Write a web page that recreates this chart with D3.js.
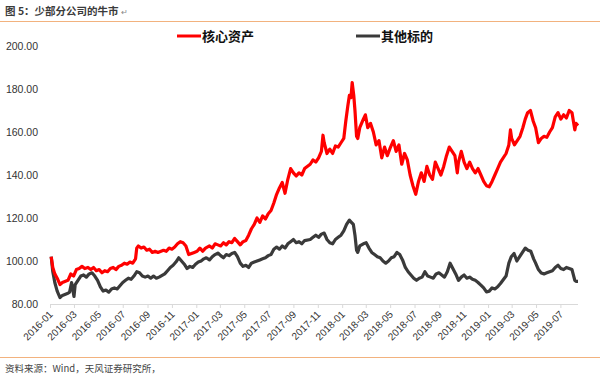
<!DOCTYPE html>
<html><head><meta charset="utf-8">
<script src="https://cdn.jsdelivr.net/npm/d3@7"></script>
<style>
html,body{margin:0;padding:0;background:#fff;}
svg{display:block;font-family:"Noto Sans CJK SC","Noto Sans",sans-serif;}
</style></head>
<body><svg id="c" width="600" height="379"></svg>
<script>
const title = "图 5：少部分公司的牛市";
const source = "资料来源：Wind，天风证券研究所，";
const seriesNames = ["核心资产", "其他标的"];
const yTicks = [80, 100, 120, 140, 160, 180, 200];
const xTickLabels = ["2016-01","2016-03","2016-05","2016-07","2016-09","2016-11","2017-01","2017-03","2017-05","2017-07","2017-09","2017-11","2018-01","2018-03","2018-05","2018-07","2018-09","2018-11","2019-01","2019-03","2019-05","2019-07"];

const coreDates = ["2016-01-04","2016-01-08","2016-01-13","2016-01-19","2016-01-26","2016-02-01","2016-02-15","2016-02-22","2016-02-29","2016-03-07","2016-03-14","2016-03-21","2016-03-28","2016-04-05","2016-04-12","2016-04-19","2016-04-26","2016-05-03","2016-05-10","2016-05-17","2016-05-24","2016-05-31","2016-06-07","2016-06-14","2016-06-21","2016-06-28","2016-07-05","2016-07-12","2016-07-19","2016-07-26","2016-08-02","2016-08-05","2016-08-09","2016-08-16","2016-08-23","2016-08-30","2016-09-06","2016-09-13","2016-09-20","2016-09-27","2016-10-11","2016-10-18","2016-10-25","2016-11-01","2016-11-08","2016-11-15","2016-11-22","2016-11-29","2016-12-06","2016-12-13","2016-12-20","2016-12-27","2017-01-03","2017-01-10","2017-01-17","2017-01-24","2017-02-03","2017-02-10","2017-02-17","2017-02-24","2017-03-03","2017-03-10","2017-03-17","2017-03-24","2017-03-31","2017-04-07","2017-04-14","2017-04-21","2017-04-28","2017-05-05","2017-05-12","2017-05-19","2017-05-26","2017-06-02","2017-06-09","2017-06-16","2017-06-23","2017-06-30","2017-07-07","2017-07-14","2017-07-21","2017-07-28","2017-08-04","2017-08-11","2017-08-18","2017-08-25","2017-09-01","2017-09-08","2017-09-15","2017-09-22","2017-09-29","2017-10-13","2017-10-20","2017-10-27","2017-11-03","2017-11-10","2017-11-14","2017-11-17","2017-11-24","2017-12-01","2017-12-08","2017-12-15","2017-12-22","2017-12-29","2018-01-05","2018-01-10","2018-01-15","2018-01-19","2018-01-23","2018-01-26","2018-01-30","2018-02-02","2018-02-06","2018-02-09","2018-02-14","2018-02-23","2018-02-28","2018-03-06","2018-03-13","2018-03-20","2018-03-27","2018-04-03","2018-04-10","2018-04-17","2018-04-24","2018-05-02","2018-05-09","2018-05-16","2018-05-23","2018-05-30","2018-06-06","2018-06-13","2018-06-20","2018-06-27","2018-07-04","2018-07-11","2018-07-18","2018-07-25","2018-08-01","2018-08-08","2018-08-15","2018-08-22","2018-08-29","2018-09-05","2018-09-12","2018-09-19","2018-09-26","2018-10-10","2018-10-16","2018-10-19","2018-10-26","2018-11-02","2018-11-09","2018-11-16","2018-11-23","2018-11-30","2018-12-07","2018-12-14","2018-12-21","2018-12-28","2019-01-04","2019-01-11","2019-01-18","2019-01-25","2019-02-01","2019-02-15","2019-02-22","2019-02-26","2019-03-01","2019-03-08","2019-03-15","2019-03-22","2019-03-29","2019-04-04","2019-04-10","2019-04-17","2019-04-24","2019-04-30","2019-05-07","2019-05-14","2019-05-21","2019-05-28","2019-06-04","2019-06-11","2019-06-18","2019-06-25","2019-07-02","2019-07-09","2019-07-16","2019-07-23","2019-07-30","2019-08-06","2019-08-09","2019-08-14"];
const coreValues = [102,97,94,92,89,90,91,94,93,96,96.5,97.5,96.5,97,96,97,95.5,96,94.5,95.5,95,96.5,97,96,97.5,98,99,98.5,99.5,99,101,106,107,106,106.5,105,105.5,104,104.5,104,105,104.5,106,105.5,106.5,108,109,108.5,107,103,103.5,104,104.5,106,104.5,106,107,106,108,107.5,107,108.5,107.5,109,108.5,110.5,109,107.5,109,109.5,112,115,117,120,118,121,119.5,122,123.5,127,131,134,136.5,131.5,138,143,141,139.5,141,140,143,145,147,146,148,151,158.5,155,150,152,150,153.5,153,155,157,165,172,177,176,183,177,170,158,157,162,166,168,162,164,160,154,156,148,153,149,153,156,151,154,145,150,147,140,135,131,137,141,137,144,140,138,146,143,140,144,149,153,149,141,146,151,146,143,146,143,141,143,140,137,135,134.5,137,140,143,146,150,154,161,157,154,156,158,162,166,169,170,165,162,155,157,158,157.5,160,162,167,169,166,168,166.5,170,169,161,164,163];

const otherDates = ["2016-01-04","2016-01-08","2016-01-13","2016-01-19","2016-01-26","2016-02-01","2016-02-15","2016-02-19","2016-02-24","2016-03-01","2016-03-04","2016-03-11","2016-03-18","2016-03-25","2016-04-01","2016-04-08","2016-04-15","2016-04-22","2016-04-29","2016-05-06","2016-05-13","2016-05-20","2016-05-27","2016-06-03","2016-06-10","2016-06-17","2016-06-24","2016-07-01","2016-07-08","2016-07-15","2016-07-22","2016-07-29","2016-08-05","2016-08-12","2016-08-19","2016-08-26","2016-09-02","2016-09-09","2016-09-16","2016-09-23","2016-09-30","2016-10-14","2016-10-21","2016-10-28","2016-11-04","2016-11-11","2016-11-18","2016-11-25","2016-12-02","2016-12-09","2016-12-16","2016-12-23","2016-12-30","2017-01-06","2017-01-13","2017-01-20","2017-01-26","2017-02-03","2017-02-10","2017-02-17","2017-02-24","2017-03-03","2017-03-10","2017-03-17","2017-03-24","2017-03-31","2017-04-07","2017-04-14","2017-04-21","2017-04-28","2017-05-05","2017-05-12","2017-05-19","2017-05-26","2017-06-02","2017-06-09","2017-06-16","2017-06-23","2017-06-30","2017-07-07","2017-07-14","2017-07-21","2017-07-28","2017-08-04","2017-08-11","2017-08-18","2017-08-25","2017-09-01","2017-09-08","2017-09-15","2017-09-22","2017-09-29","2017-10-13","2017-10-20","2017-10-27","2017-11-03","2017-11-10","2017-11-17","2017-11-24","2017-12-01","2017-12-08","2017-12-15","2017-12-22","2017-12-29","2018-01-05","2018-01-12","2018-01-19","2018-01-24","2018-01-29","2018-02-02","2018-02-06","2018-02-09","2018-02-14","2018-02-23","2018-03-02","2018-03-09","2018-03-16","2018-03-23","2018-03-30","2018-04-06","2018-04-13","2018-04-20","2018-04-27","2018-05-04","2018-05-11","2018-05-18","2018-05-25","2018-06-01","2018-06-08","2018-06-15","2018-06-22","2018-06-29","2018-07-06","2018-07-13","2018-07-20","2018-07-27","2018-08-03","2018-08-10","2018-08-17","2018-08-24","2018-08-31","2018-09-07","2018-09-14","2018-09-21","2018-09-28","2018-10-12","2018-10-19","2018-10-26","2018-11-02","2018-11-09","2018-11-16","2018-11-23","2018-11-30","2018-12-07","2018-12-14","2018-12-21","2018-12-28","2019-01-04","2019-01-11","2019-01-18","2019-01-25","2019-02-01","2019-02-15","2019-02-22","2019-02-28","2019-03-07","2019-03-14","2019-03-21","2019-03-28","2019-04-04","2019-04-11","2019-04-18","2019-04-25","2019-04-30","2019-05-07","2019-05-14","2019-05-21","2019-05-28","2019-06-04","2019-06-11","2019-06-18","2019-06-25","2019-07-02","2019-07-09","2019-07-16","2019-07-23","2019-07-30","2019-08-06","2019-08-09","2019-08-14"];
const otherValues = [102,95,90,86,83,84,85,85.5,90,83.5,89,91,93,93.5,92.5,94,94.5,93,91,88,86,86.5,85.5,87,87.5,87,88.5,90,91,92,91.5,93,95,94.5,93,92.5,93,92,93,92,92.5,94,95.5,97,98,99.5,101.5,100,98.5,96.5,97.5,97,98.5,99.5,100,101,101.5,100.5,102,103,103.7,102.5,101.5,103,102.5,103.5,104,102,99,97.5,98,97,99,99.5,100,100.5,101,101.5,102.5,103,105.5,106.5,105.5,107,106,108,109,110,108.5,109,108,109.5,110,111,112,111,112.5,113,110,108.5,108,110,111,112,114,117,119,118,117,112,105,104,107,108,108.5,106,104,103,102,101.5,100,99,100,101.5,102,104,103,100.5,97,95,93.5,92,91,92,92.5,95,93,92.5,92,94,94.5,93.5,92.5,95,99,94,91,92.5,93.5,92,92.5,91.5,91,90,88.8,87.5,85.6,86,87.5,87,88,89.5,93,99,102,103.5,100,102,104,106,105,104.5,101,99,96,94.4,94,94.5,95,95.5,97,98,96.5,96,97,96.5,96,91,90.5,90.5];

const colors = ["#ff0000", "#3a3a3a"];

const svg = d3.select("#c");
const parse = d3.timeParse("%Y-%m-%d");
const parseM = d3.timeParse("%Y-%m");

const x = d3.scaleTime().domain([parse("2016-01-01"), parse("2019-08-14")]).range([50, 578]);
const y = d3.scaleLinear().domain([80, 200]).range([304, 46]);

// header
const t = svg.append("text").attr("x", 5).attr("y", 15).attr("font-size", 10.5).attr("font-weight", "bold").attr("fill", "#3b3b3b").text(title);
const tw = t.node().getComputedTextLength();
svg.append("text").attr("x", 5 + tw + 2).attr("y", 15).attr("font-size", 8).attr("fill", "#888").text("↵");
svg.append("line").attr("x1", 0).attr("x2", 600).attr("y1", 21.5).attr("y2", 21.5).attr("stroke", "#f2b27e").attr("stroke-width", 1.2);
svg.append("line").attr("x1", 0).attr("x2", 600).attr("y1", 357.5).attr("y2", 357.5).attr("stroke", "#f2b27e").attr("stroke-width", 1.2);
svg.append("text").attr("x", 5).attr("y", 372).attr("font-size", 9.5).attr("fill", "#444").text(source);

// y axis labels
svg.append("g").selectAll("text").data(yTicks).join("text")
  .attr("x", 38).attr("y", d => y(d)).attr("dy", "0.35em").attr("text-anchor", "end")
  .attr("font-size", 10.5).attr("fill", "#333").attr("font-family", "Liberation Sans, Arial, sans-serif")
  .text(d => d3.format(".2f")(d));

// x axis
const xAxis = d3.axisBottom(x).tickValues(xTickLabels.map(parseM)).tickSize(4).tickFormat(d3.timeFormat("%Y-%m"));
const gx = svg.append("g").attr("transform", "translate(0,304)").call(xAxis);
gx.select(".domain").attr("stroke", "#d9d9d9").attr("d", "M50,0.5H578");
gx.selectAll(".tick line").attr("stroke", "#d9d9d9");
gx.selectAll(".tick text").attr("font-size", 10).attr("fill", "#333")
  .attr("font-family", "Liberation Sans, Arial, sans-serif")
  .attr("text-anchor", "end").attr("dy", null).attr("y", 0)
  .attr("transform", "translate(3,11) rotate(-45)");

// lines
const line = d3.line().x(d => x(d[0])).y(d => y(d[1]));
const coreData = coreDates.map((d, i) => [parse(d), coreValues[i]]);
const otherData = otherDates.map((d, i) => [parse(d), otherValues[i]]);
svg.append("path").datum(otherData).attr("d", line).attr("fill", "none").attr("stroke", colors[1]).attr("stroke-width", 3.2).attr("stroke-linejoin", "round");
svg.append("path").datum(coreData).attr("d", line).attr("fill", "none").attr("stroke", colors[0]).attr("stroke-width", 3.2).attr("stroke-linejoin", "round");

// legend
const legendX = [177, 356];
seriesNames.forEach((n, i) => {
  svg.append("line").attr("x1", legendX[i]).attr("x2", legendX[i] + 24).attr("y1", 36).attr("y2", 36).attr("stroke", colors[i]).attr("stroke-width", 3);
  svg.append("text").attr("x", legendX[i] + 25).attr("y", 41).attr("font-size", 13).attr("font-weight", "bold").attr("fill", "#111").text(n);
});
</script></body></html>
